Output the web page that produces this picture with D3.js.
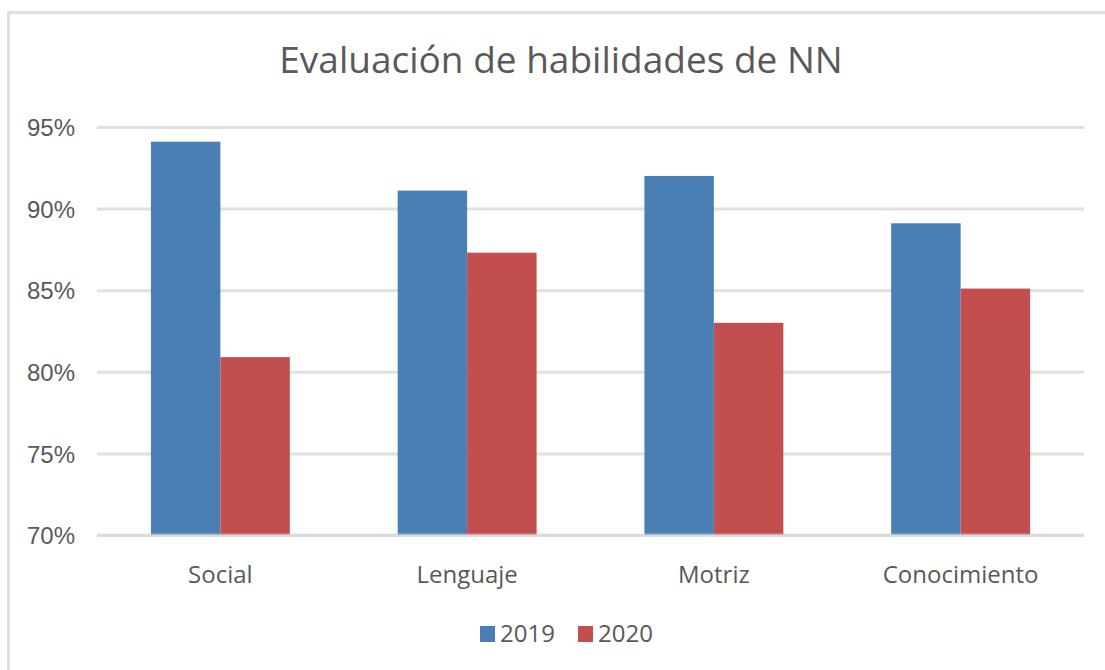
<!DOCTYPE html>
<html>
<head>
<meta charset="utf-8">
<script src="https://cdn.jsdelivr.net/npm/d3@7"></script>
<style>
	body { margin:0; background:#fff; }
	svg { display:block; font-family:"Open Sans", "Noto Sans", sans-serif; }
	.t_title { font-size:37px; fill:#595959; }
	.axis text { font-size:24px; fill:#595959; }
	.t_cat { font-size:24px; fill:#595959; }
	.t_leg { font-size:24px; fill:#595959; }
</style>
</head>
<body>
<svg width="1105" height="670"></svg>
<script>
/* ----------------------------------------------------------
data
---------------------------------------------------------- */
var categories = ["Social", "Lenguaje", "Motriz", "Conocimiento"];
var years = ["2019", "2020"];
var values2019 = [0.941, 0.911, 0.920, 0.891];
var values2020 = [0.809, 0.873, 0.830, 0.851];
var yTicks = [0.70, 0.75, 0.80, 0.85, 0.90, 0.95];
var colors = ["#4a7fb6", "#c24f4e"];

var series = [values2019, values2020];

/* ----------------------------------------------------------
setting
---------------------------------------------------------- */
var svg = d3.select("svg");
var plotL = 97, plotR = 1084, plotT = 127, plotB = 535;

// frame
svg.append("rect").attr("x", 8.5).attr("y", 12.5).attr("width", 1110).attr("height", 700)
	.style("fill", "none").style("stroke", "#e0e0e0").style("stroke-width", 3);

// title
svg.append("text").attr("x", 561).attr("y", 73).attr("class", "t_title")
	.style("text-anchor", "middle").text("Evaluación de habilidades de NN");

//axis
var y = d3.scaleLinear().domain([0.70, 0.95]).range([plotB, plotT]);
var x0 = d3.scaleBand().domain(categories).range([plotL, plotR]).paddingInner(0.437).paddingOuter(0.2185);
var x1 = d3.scaleBand().domain(years).range([0, x0.bandwidth()]);

var grid = d3.axisLeft(y).tickValues(yTicks).tickSize(-(plotR - plotL)).tickFormat("");
var yAxis = d3.axisLeft(y).tickValues(yTicks).tickSize(0).tickPadding(22).tickFormat(d3.format(".0%"));

var g = svg.append("g").attr("transform", "translate(" + plotL + ",0)");
g.append("g").attr("class", "grid").call(grid)
	.call(function(s){ s.select(".domain").remove(); })
	.selectAll("line").style("stroke", "#e0e0e0").style("stroke-width", 3);
g.append("g").attr("class", "axis").call(yAxis)
	.call(function(s){ s.select(".domain").remove(); })
	.selectAll("text").style("font-family", "inherit").style("font-size", "24px").attr("dy", "0.36em");

//bars
var gBars = svg.append("g");
var groups = gBars.selectAll(".cat")
	.data(categories)
	.enter().append("g")
	.attr("class", "cat")
	.attr("transform", function(d){ return "translate(" + x0(d) + ",0)"; });

groups.selectAll("rect")
	.data(function(d, i){ return years.map(function(yr, j){ return {year:yr, v:series[j][i], j:j}; }); })
	.enter().append("rect")
	.attr("x", function(d){ return x1(d.year); })
	.attr("y", function(d){ return y(d.v); })
	.attr("width", x1.bandwidth())
	.attr("height", function(d){ return y(0.70) - y(d.v); })
	.style("fill", function(d){ return colors[d.j]; });

// base line over the bars
svg.append("line").attr("x1", plotL).attr("x2", plotR).attr("y1", y(0.70)).attr("y2", y(0.70))
	.style("stroke", "#d8d8d8").style("stroke-width", 3).style("opacity", 0.6);

//category labels
svg.selectAll(".t_cat")
	.data(categories)
	.enter().append("text")
	.attr("class", "t_cat")
	.attr("x", function(d){ return x0(d) + x0.bandwidth() / 2; })
	.attr("y", 583)
	.style("text-anchor", "middle")
	.text(function(d){ return d; });

//legend
var gLegend = svg.append("g").attr("transform", "translate(480,626)");
var legs = gLegend.selectAll(".legends")
	.data(years)
	.enter().append("g")
	.attr("class", "legends")
	.attr("transform", function(d, i){ return "translate(" + (i * 98) + ",0)"; });

legs.append("rect")
	.attr("x", 0).attr("y", 0).attr("width", 15).attr("height", 16)
	.style("fill", function(d, i){ return colors[i]; });

legs.append("text")
	.attr("x", 20).attr("y", 16)
	.attr("class", "t_leg")
	.text(function(d){ return d; });
</script>
</body>
</html>
